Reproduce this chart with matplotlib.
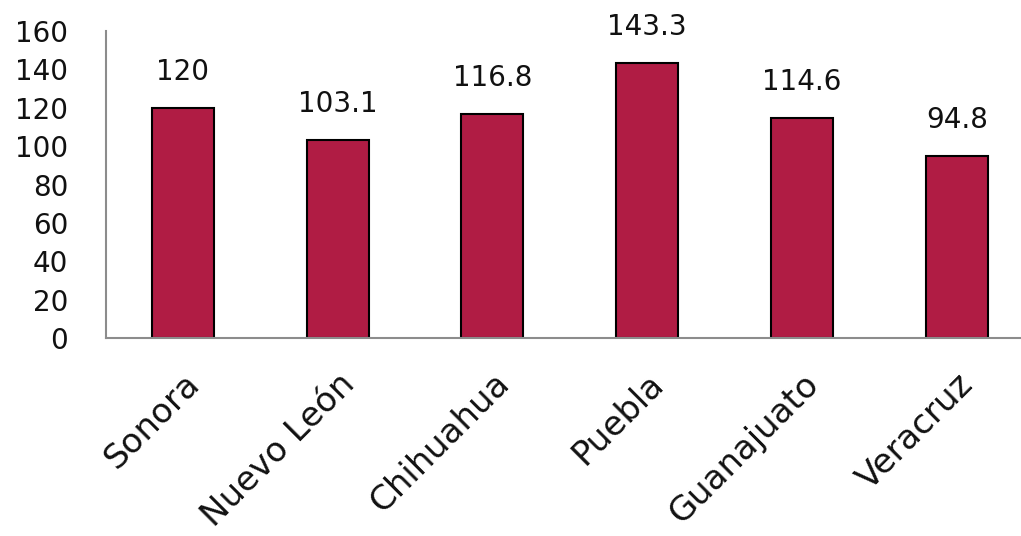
import matplotlib
matplotlib.use('Agg')
from matplotlib import pyplot as plt
import numpy as np

estados = ['Sonora', 'Nuevo León', 'Chihuahua', 'Puebla', 'Guanajuato', 'Veracruz']
valores = [120, 103.1, 116.8, 143.3, 114.6, 94.8]
etiquetas = ['120', '103.1', '116.8', '143.3', '114.6', '94.8']
yticks = [0, 20, 40, 60, 80, 100, 120, 140, 160]

plt.rcParams['font.family'] = ['DejaVu Sans']

fig = plt.figure(figsize=(10.21, 5.36), dpi=100)
ax = fig.add_axes([0.1034, 0.3694, 0.9094, 0.5726])

x = np.arange(len(estados))
ax.bar(x, valores, width=0.4, color='#B01C44', edgecolor='black', linewidth=1.5, zorder=2)

for xi, v, t in zip(x, valores, etiquetas):
    ax.annotate(t, (xi, v), xytext=(0, 16), textcoords='offset points',
                ha='center', va='bottom', fontsize=20, color='#111111')

ax.set_xlim(-0.5, 5.5)
ax.set_ylim(0, 160)
ax.set_yticks(yticks)
ax.set_yticklabels([str(t) for t in yticks], fontsize=20, color='#111111')
ax.set_xticks(x)
ax.set_xticklabels(estados, fontsize=24.5, color='#111111', rotation=45,
                   ha='right', rotation_mode='anchor')
ax.tick_params(axis='both', length=0)
ax.tick_params(axis='x', pad=21)
ax.tick_params(axis='y', pad=27)

for s in ['top', 'right']:
    ax.spines[s].set_visible(False)
for s in ['left', 'bottom']:
    ax.spines[s].set_color('#8c8c8c')
    ax.spines[s].set_linewidth(1.5)

fig.savefig('out.png', dpi=100)
